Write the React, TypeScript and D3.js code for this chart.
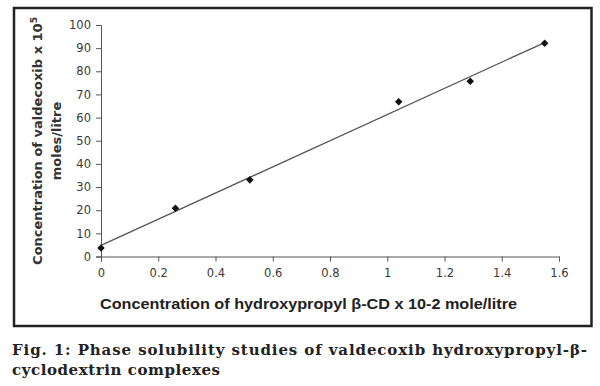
import React, { useRef, useEffect } from "react";
import * as d3 from "d3";

// hydroxypropyl beta-CD concentration (x 10-2 mole/litre)
const cdConc = [0, 0.26, 0.52, 1.04, 1.29, 1.55];
// valdecoxib concentration (x 10-5 moles/litre)
const valdecoxib = [3.7, 20.8, 33.1, 66.8, 75.7, 92.1];

const xTicks = [0, 0.2, 0.4, 0.6, 0.8, 1, 1.2, 1.4, 1.6];
const yTicks = [0, 10, 20, 30, 40, 50, 60, 70, 80, 90, 100];

const xTitle = "Concentration of hydroxypropyl \u03b2-CD x 10-2 mole/litre";
const yTitle1 = "Concentration of valdecoxib x 10";
const yTitle2 = "moles/litre";
const caption1 = "Fig. 1: Phase solubility studies of valdecoxib hydroxypropyl-\u03b2-";
const caption2 = "cyclodextrin complexes";

export default function App() {
  const svg = useRef(null);

  useEffect(() => {
    const root = d3.select(svg.current);
    root.selectAll("*").remove();

    const x = d3.scaleLinear().domain([0, 1.6]).range([101, 559]);
    const y = d3.scaleLinear().domain([0, 100]).range([256.5, 25]);

    // frame round the plot
    root
      .append("rect")
      .attr("x", 14)
      .attr("y", 8)
      .attr("width", 577.5)
      .attr("height", 318)
      .attr("fill", "none")
      .attr("stroke", "#222")
      .attr("stroke-width", 2.5);

    const xAxis = d3.axisBottom(x).tickValues(xTicks).tickSize(5).tickPadding(7).tickFormat(d3.format("~g"));
    const yAxis = d3.axisLeft(y).tickValues(yTicks).tickSize(5).tickPadding(5);

    const gx = root.append("g").attr("transform", `translate(0,${y(0)})`).call(xAxis);
    const gy = root.append("g").attr("transform", `translate(${x(0)},0)`).call(yAxis);

    [gx, gy].forEach((g) => {
      g.select(".domain").attr("stroke", "#555");
      g.selectAll(".tick line").attr("stroke", "#555");
      g.selectAll(".tick text")
        .attr("fill", "#3a3a3a")
        .style("font-family", "DejaVu Sans")
        .style("font-size", "11.5px");
    });

    // least squares trend line
    const mx = d3.mean(cdConc);
    const my = d3.mean(valdecoxib);
    const sxy = d3.sum(cdConc, (d, i) => (d - mx) * (valdecoxib[i] - my));
    const sxx = d3.sum(cdConc, (d) => (d - mx) * (d - mx));
    const slope = sxy / sxx;
    const icpt = my - slope * mx;
    const x0 = d3.min(cdConc);
    const x1 = d3.max(cdConc);

    root
      .append("line")
      .attr("x1", x(x0))
      .attr("y1", y(icpt + slope * x0))
      .attr("x2", x(x1))
      .attr("y2", y(icpt + slope * x1))
      .attr("stroke", "#555")
      .attr("stroke-width", 1.3);

    const diamond = d3.symbol().type(d3.symbolDiamond2).size(36);
    root
      .selectAll(".pt")
      .data(cdConc)
      .enter()
      .append("path")
      .attr("class", "pt")
      .attr("d", diamond)
      .attr("transform", (d, i) => `translate(${x(d)},${y(valdecoxib[i])})`)
      .attr("fill", "#111");

    // axis titles
    root
      .append("text")
      .attr("x", 100)
      .attr("y", 309)
      .attr("textLength", 417)
      .attr("lengthAdjust", "spacingAndGlyphs")
      .style("font-family", "Liberation Sans, Arial")
      .style("font-weight", "bold")
      .style("font-size", "14px")
      .attr("fill", "#222")
      .text(xTitle);

    const t1 = root
      .append("text")
      .attr("transform", "translate(42,141) rotate(-90)")
      .attr("text-anchor", "middle")
      .style("font-family", "DejaVu Sans")
      .style("font-weight", "bold")
      .style("font-size", "13px")
      .attr("fill", "#333");
    t1.append("tspan").text(yTitle1);
    t1.append("tspan").attr("dy", -5).style("font-size", "9px").text("5");

    root
      .append("text")
      .attr("transform", "translate(61,141) rotate(-90)")
      .attr("text-anchor", "middle")
      .style("font-family", "DejaVu Sans")
      .style("font-weight", "bold")
      .style("font-size", "13px")
      .attr("fill", "#333")
      .text(yTitle2);

    // caption
    root
      .append("text")
      .attr("x", 12)
      .attr("y", 355)
      .attr("textLength", 575)
      .attr("lengthAdjust", "spacing")
      .style("font-family", "DejaVu Serif")
      .style("font-weight", "bold")
      .style("font-size", "15px")
      .attr("fill", "#222")
      .text(caption1);

    root
      .append("text")
      .attr("x", 12)
      .attr("y", 375)
      .attr("textLength", 208)
      .attr("lengthAdjust", "spacing")
      .style("font-family", "DejaVu Serif")
      .style("font-weight", "bold")
      .style("font-size", "15px")
      .attr("fill", "#222")
      .text(caption2);
  }, []);

  return (
    <div style={{ position: "absolute", left: 0, top: 0 }}>
      <svg ref={svg} width={600} height={386} style={{ display: "block", background: "#fff" }}></svg>
    </div>
  );
}
